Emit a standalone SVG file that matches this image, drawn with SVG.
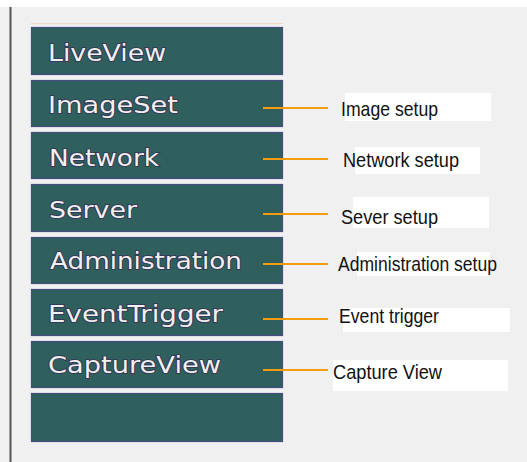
<svg xmlns="http://www.w3.org/2000/svg" width="527" height="462" viewBox="0 0 527 462">
  <style>
    .btn { fill: #2f605d; stroke: #464c82; stroke-width: 1.2; }
    .btxt { font-family: "DejaVu Sans", Verdana, sans-serif; font-size: 23px; fill: #f0f0f0; stroke: #363056; stroke-width: 1.7; paint-order: stroke; }
    .lbl { font-family: "Liberation Sans", Arial, sans-serif; font-size: 21px; fill: #111; }
    .patch { fill: #ffffff; }
    .conn { stroke: #f59b12; stroke-width: 2.2; fill: none; }
  </style>

  <!-- page background -->
  <rect x="0" y="0" width="527" height="462" fill="#f0f0f0"/>
  <rect x="0" y="0" width="527" height="7" fill="#ffffff"/>
  <line x1="10.5" y1="7" x2="10.5" y2="462" stroke="#555" stroke-width="2"/>
  <line x1="31" y1="23.5" x2="283" y2="23.5" stroke="#efd9c8" stroke-width="1"/>

  <!-- menu buttons -->
  <g id="liveview">
    <rect class="btn" x="31.5" y="27.5" width="251" height="47"/>
    <text class="btxt" x="48" y="61" textLength="118" lengthAdjust="spacingAndGlyphs">LiveView</text>
  </g>
  <g id="imageset">
    <rect class="btn" x="31.5" y="80.5" width="251" height="46"/>
    <text class="btxt" x="48" y="113" textLength="130" lengthAdjust="spacingAndGlyphs">ImageSet</text>
  </g>
  <g id="network">
    <rect class="btn" x="31.5" y="132.5" width="251" height="46"/>
    <text class="btxt" x="49" y="166" textLength="110" lengthAdjust="spacingAndGlyphs">Network</text>
  </g>
  <g id="server">
    <rect class="btn" x="31.5" y="184.5" width="251" height="47"/>
    <text class="btxt" x="49" y="218" textLength="88" lengthAdjust="spacingAndGlyphs">Server</text>
  </g>
  <g id="administration">
    <rect class="btn" x="31.5" y="237.5" width="251" height="46"/>
    <text class="btxt" x="50" y="269" textLength="192" lengthAdjust="spacingAndGlyphs">Administration</text>
  </g>
  <g id="eventtrigger">
    <rect class="btn" x="31.5" y="289.5" width="251" height="46"/>
    <text class="btxt" x="48" y="322" textLength="175" lengthAdjust="spacingAndGlyphs">EventTrigger</text>
  </g>
  <g id="captureview">
    <rect class="btn" x="31.5" y="341.5" width="251" height="46"/>
    <text class="btxt" x="48" y="373" textLength="173" lengthAdjust="spacingAndGlyphs">CaptureView</text>
  </g>
  <g id="blank">
    <rect class="btn" x="31.5" y="393.5" width="251" height="48"/>
  </g>

  <!-- connectors -->
  <g id="connectors">
    <line class="conn" x1="263" y1="108" x2="328" y2="108"/>
    <line class="conn" x1="263" y1="159" x2="328" y2="159"/>
    <line class="conn" x1="263" y1="214" x2="328" y2="214"/>
    <line class="conn" x1="263" y1="264" x2="328" y2="264"/>
    <line class="conn" x1="263" y1="319" x2="328" y2="319"/>
    <line class="conn" x1="263" y1="370" x2="328" y2="370"/>
  </g>

  <!-- callout labels -->
  <g id="label-image">
    <rect class="patch" x="345" y="93" width="146" height="28"/>
    <text class="lbl" x="341" y="116" textLength="97" lengthAdjust="spacingAndGlyphs">Image setup</text>
  </g>
  <g id="label-network">
    <rect class="patch" x="355" y="147" width="125" height="27"/>
    <text class="lbl" x="343" y="167" textLength="116" lengthAdjust="spacingAndGlyphs">Network setup</text>
  </g>
  <g id="label-server">
    <rect class="patch" x="353" y="197" width="136" height="31"/>
    <text class="lbl" x="341" y="224" textLength="97" lengthAdjust="spacingAndGlyphs">Sever setup</text>
  </g>
  <g id="label-admin">
    <rect class="patch" x="357" y="252" width="133" height="24"/>
    <text class="lbl" x="338" y="271" textLength="159" lengthAdjust="spacingAndGlyphs">Administration setup</text>
  </g>
  <g id="label-event">
    <rect class="patch" x="343" y="308" width="167" height="24"/>
    <text class="lbl" x="339" y="323" textLength="100" lengthAdjust="spacingAndGlyphs">Event trigger</text>
  </g>
  <g id="label-capture">
    <rect class="patch" x="333" y="360" width="175" height="31"/>
    <text class="lbl" x="333" y="379" textLength="109" lengthAdjust="spacingAndGlyphs">Capture View</text>
  </g>
</svg>
